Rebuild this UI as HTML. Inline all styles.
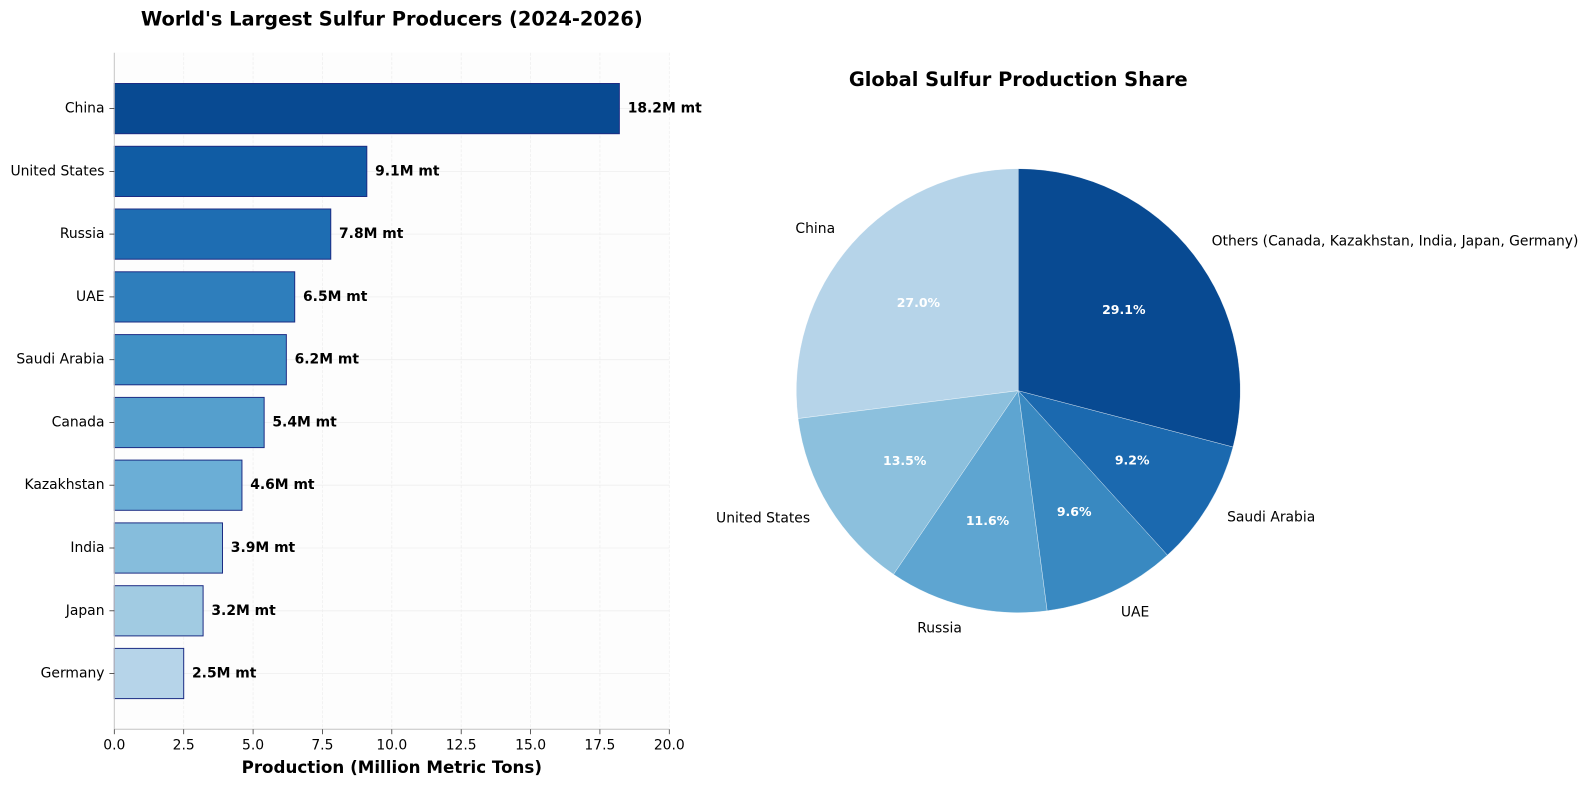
<!DOCTYPE html>
<html>
<head>
<meta charset="utf-8">
<style>
html,body{margin:0;padding:0;background:#ffffff;}
svg{display:block;}
text{font-family:"DejaVu Sans","Liberation Sans",sans-serif;fill:#000;}
.tl{font-size:13.9px;}
.vl{font-size:13.9px;font-weight:bold;}
.pl{font-size:13.9px;}
.pp{font-size:12.5px;font-weight:bold;fill:#ffffff;}
.tt{font-size:19.4px;font-weight:bold;}
</style>
</head>
<body>
<svg width="1588" height="786" viewBox="0 0 1588 786" xmlns="http://www.w3.org/2000/svg">
<rect width="1588" height="786" fill="#ffffff"/>

<!-- Bar chart axes background -->
<rect x="114.3" y="52.7" width="555" height="676.6" fill="#fdfdfd"/>

<!-- vertical grid (dashed) -->
<g stroke="#efefef" stroke-width="0.8" stroke-dasharray="3,1.6">
<line x1="183.7" y1="52.7" x2="183.7" y2="729.3"/>
<line x1="253.1" y1="52.7" x2="253.1" y2="729.3"/>
<line x1="322.4" y1="52.7" x2="322.4" y2="729.3"/>
<line x1="391.8" y1="52.7" x2="391.8" y2="729.3"/>
<line x1="461.2" y1="52.7" x2="461.2" y2="729.3"/>
<line x1="530.6" y1="52.7" x2="530.6" y2="729.3"/>
<line x1="599.9" y1="52.7" x2="599.9" y2="729.3"/>
<line x1="669.3" y1="52.7" x2="669.3" y2="729.3"/>
</g>
<!-- horizontal grid -->
<g stroke="#eeeeee" stroke-width="0.8">
<line x1="114.3" y1="108.6" x2="669.3" y2="108.6"/>
<line x1="114.3" y1="171.4" x2="669.3" y2="171.4"/>
<line x1="114.3" y1="234.1" x2="669.3" y2="234.1"/>
<line x1="114.3" y1="296.9" x2="669.3" y2="296.9"/>
<line x1="114.3" y1="359.7" x2="669.3" y2="359.7"/>
<line x1="114.3" y1="422.5" x2="669.3" y2="422.5"/>
<line x1="114.3" y1="485.2" x2="669.3" y2="485.2"/>
<line x1="114.3" y1="548.0" x2="669.3" y2="548.0"/>
<line x1="114.3" y1="610.8" x2="669.3" y2="610.8"/>
<line x1="114.3" y1="673.5" x2="669.3" y2="673.5"/>
</g>

<!-- Bars -->
<g stroke="#1c2c84" stroke-width="1">
<rect x="114.3" y="83.5" width="505.05" height="50.2" fill="#084a92"/>
<rect x="114.3" y="146.3" width="252.5" height="50.2" fill="#105ca4"/>
<rect x="114.3" y="209.0" width="216.45" height="50.2" fill="#1e6db2"/>
<rect x="114.3" y="271.8" width="180.4" height="50.2" fill="#2e7ebc"/>
<rect x="114.3" y="334.6" width="172.05" height="50.2" fill="#4090c5"/>
<rect x="114.3" y="397.4" width="149.85" height="50.2" fill="#559fcd"/>
<rect x="114.3" y="460.1" width="127.65" height="50.2" fill="#6baed6"/>
<rect x="114.3" y="522.9" width="108.2" height="50.2" fill="#86bddc"/>
<rect x="114.3" y="585.7" width="88.8" height="50.2" fill="#a1cbe2"/>
<rect x="114.3" y="648.4" width="69.4" height="50.2" fill="#b6d4e9"/>
</g>

<!-- Value labels -->
<text class="vl" x="627.7" y="108.6" dominant-baseline="central">18.2M mt</text>
<text class="vl" x="375.1" y="171.4" dominant-baseline="central">9.1M mt</text>
<text class="vl" x="339.0" y="234.1" dominant-baseline="central">7.8M mt</text>
<text class="vl" x="303.0" y="296.9" dominant-baseline="central">6.5M mt</text>
<text class="vl" x="294.6" y="359.7" dominant-baseline="central">6.2M mt</text>
<text class="vl" x="272.4" y="422.5" dominant-baseline="central">5.4M mt</text>
<text class="vl" x="250.2" y="485.2" dominant-baseline="central">4.6M mt</text>
<text class="vl" x="230.8" y="548.0" dominant-baseline="central">3.9M mt</text>
<text class="vl" x="211.4" y="610.8" dominant-baseline="central">3.2M mt</text>
<text class="vl" x="192.0" y="673.5" dominant-baseline="central">2.5M mt</text>

<!-- Spines -->
<line x1="114.3" y1="52.7" x2="114.3" y2="729.3" stroke="#c4c4c4" stroke-width="1"/>
<line x1="114.3" y1="729.3" x2="669.3" y2="729.3" stroke="#c4c4c4" stroke-width="1"/>

<!-- Y ticks -->
<g stroke="#333" stroke-width="0.8">
<line x1="109.4" y1="108.6" x2="114.3" y2="108.6"/>
<line x1="109.4" y1="171.4" x2="114.3" y2="171.4"/>
<line x1="109.4" y1="234.1" x2="114.3" y2="234.1"/>
<line x1="109.4" y1="296.9" x2="114.3" y2="296.9"/>
<line x1="109.4" y1="359.7" x2="114.3" y2="359.7"/>
<line x1="109.4" y1="422.5" x2="114.3" y2="422.5"/>
<line x1="109.4" y1="485.2" x2="114.3" y2="485.2"/>
<line x1="109.4" y1="548.0" x2="114.3" y2="548.0"/>
<line x1="109.4" y1="610.8" x2="114.3" y2="610.8"/>
<line x1="109.4" y1="673.5" x2="114.3" y2="673.5"/>
</g>
<text class="tl" x="104.5" y="108.6" dominant-baseline="central" text-anchor="end">China</text>
<text class="tl" x="104.5" y="171.4" dominant-baseline="central" text-anchor="end">United States</text>
<text class="tl" x="104.5" y="234.1" dominant-baseline="central" text-anchor="end">Russia</text>
<text class="tl" x="104.5" y="296.9" dominant-baseline="central" text-anchor="end">UAE</text>
<text class="tl" x="104.5" y="359.7" dominant-baseline="central" text-anchor="end">Saudi Arabia</text>
<text class="tl" x="104.5" y="422.5" dominant-baseline="central" text-anchor="end">Canada</text>
<text class="tl" x="104.5" y="485.2" dominant-baseline="central" text-anchor="end">Kazakhstan</text>
<text class="tl" x="104.5" y="548.0" dominant-baseline="central" text-anchor="end">India</text>
<text class="tl" x="104.5" y="610.8" dominant-baseline="central" text-anchor="end">Japan</text>
<text class="tl" x="104.5" y="673.5" dominant-baseline="central" text-anchor="end">Germany</text>

<!-- X ticks -->
<g stroke="#333" stroke-width="0.8">
<line x1="114.3" y1="729.3" x2="114.3" y2="734.2"/>
<line x1="183.7" y1="729.3" x2="183.7" y2="734.2"/>
<line x1="253.1" y1="729.3" x2="253.1" y2="734.2"/>
<line x1="322.4" y1="729.3" x2="322.4" y2="734.2"/>
<line x1="391.8" y1="729.3" x2="391.8" y2="734.2"/>
<line x1="461.2" y1="729.3" x2="461.2" y2="734.2"/>
<line x1="530.6" y1="729.3" x2="530.6" y2="734.2"/>
<line x1="599.9" y1="729.3" x2="599.9" y2="734.2"/>
<line x1="669.3" y1="729.3" x2="669.3" y2="734.2"/>
</g>
<text class="tl" x="114.3" y="749.5" text-anchor="middle">0.0</text>
<text class="tl" x="183.7" y="749.5" text-anchor="middle">2.5</text>
<text class="tl" x="253.1" y="749.5" text-anchor="middle">5.0</text>
<text class="tl" x="322.4" y="749.5" text-anchor="middle">7.5</text>
<text class="tl" x="391.8" y="749.5" text-anchor="middle">10.0</text>
<text class="tl" x="461.2" y="749.5" text-anchor="middle">12.5</text>
<text class="tl" x="530.6" y="749.5" text-anchor="middle">15.0</text>
<text class="tl" x="599.9" y="749.5" text-anchor="middle">17.5</text>
<text class="tl" x="669.3" y="749.5" text-anchor="middle">20.0</text>

<text x="391.8" y="773" text-anchor="middle" style="font-size:16.7px;font-weight:bold;">Production (Million Metric Tons)</text>
<text class="tt" x="391.8" y="25.7" text-anchor="middle">World's Largest Sulfur Producers (2024-2026)</text>

<!-- Pie -->
<g stroke="#ffffff" stroke-width="0.5" stroke-opacity="0.7">
<path d="M1018.3,390.7 L1018.3,168.7 A222,222 0 0 0 798.05,418.57 Z" fill="#b6d4e9"/>
<path d="M1018.3,390.7 L798.05,418.57 A222,222 0 0 0 893.56,574.35 Z" fill="#8cc0dd"/>
<path d="M1018.3,390.7 L893.56,574.35 A222,222 0 0 0 1047.19,610.81 Z" fill="#5ea5d1"/>
<path d="M1018.3,390.7 L1047.19,610.81 A222,222 0 0 0 1167.43,555.16 Z" fill="#3989c1"/>
<path d="M1018.3,390.7 L1167.43,555.16 A222,222 0 0 0 1233.05,446.99 Z" fill="#1b69af"/>
<path d="M1018.3,390.7 L1233.05,446.99 A222,222 0 0 0 1018.3,168.7 Z" fill="#084a92"/>
</g>

<text class="pl" x="835.1" y="229.2" dominant-baseline="central" text-anchor="end">China</text>
<text class="pl" x="810.1" y="518.3" dominant-baseline="central" text-anchor="end">United States</text>
<text class="pl" x="961.9" y="628.3" dominant-baseline="central" text-anchor="end">Russia</text>
<text class="pl" x="1120.9" y="612.3" dominant-baseline="central">UAE</text>
<text class="pl" x="1227.1" y="517.4" dominant-baseline="central">Saudi Arabia</text>
<text class="pl" x="1211.6" y="241.5" dominant-baseline="central">Others (Canada, Kazakhstan, India, Japan, Germany)</text>

<text class="pp" x="918.4" y="302.6" dominant-baseline="central" text-anchor="middle">27.0%</text>
<text class="pp" x="904.7" y="460.3" dominant-baseline="central" text-anchor="middle">13.5%</text>
<text class="pp" x="987.5" y="520.3" dominant-baseline="central" text-anchor="middle">11.6%</text>
<text class="pp" x="1074.2" y="511.6" dominant-baseline="central" text-anchor="middle">9.6%</text>
<text class="pp" x="1132.2" y="459.8" dominant-baseline="central" text-anchor="middle">9.2%</text>
<text class="pp" x="1123.8" y="309.3" dominant-baseline="central" text-anchor="middle">29.1%</text>

<text class="tt" x="1018.3" y="86" text-anchor="middle">Global Sulfur Production Share</text>
</svg>
</body>
</html>
